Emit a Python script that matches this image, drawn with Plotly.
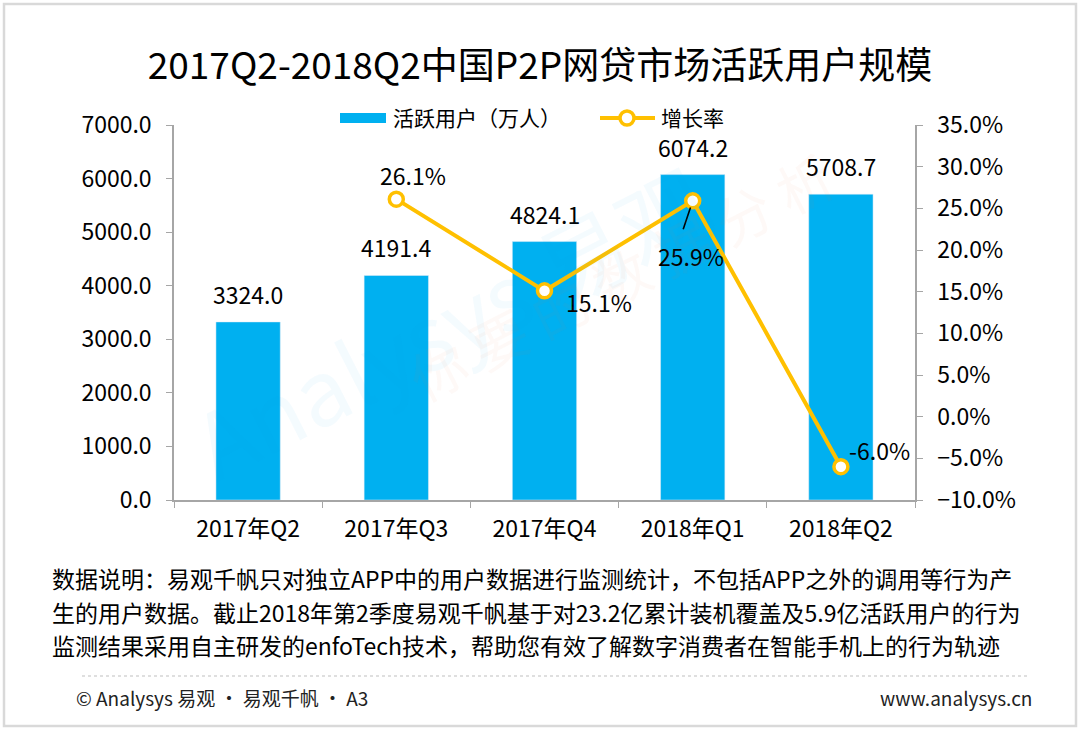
import plotly.graph_objects as go

# data
quarters = ['2017年Q2', '2017年Q3', '2017年Q4', '2018年Q1', '2018年Q2']
active_users = [3324.0, 4191.4, 4824.1, 6074.2, 5708.7]
growth_quarters = ['2017年Q3', '2017年Q4', '2018年Q1', '2018年Q2']
growth_rate = [26.1, 15.1, 25.9, -6.0]

title_text = '2017Q2-2018Q2中国P2P网贷市场活跃用户规模'
bar_name = '活跃用户（万人）'
line_name = '增长率'
note_lines = [
    '数据说明：易观千帆只对独立APP中的用户数据进行监测统计，不包括APP之外的调用等行为产',
    '生的用户数据。截止2018年第2季度易观千帆基于对23.2亿累计装机覆盖及5.9亿活跃用户的行为',
    '监测结果采用自主研发的enfoTech技术，帮助您有效了解数字消费者在智能手机上的行为轨迹',
]
footer_left = '© Analysys 易观 · 易观千帆 · A3'
footer_right = 'www.analysys.cn'

FONT = 'Noto Sans CJK SC'
BLUE = '#00B0F0'
GOLD = '#FFC000'
W, H = 1080, 731
L, R, T, B = 174, 165, 125, 231   # plot area: x 174..915, y 125..500


# helpers: pixel -> paper coords
def px(x):
    return (x - L) / (W - L - R)


def py(y):
    return (H - B - y) / (H - T - B)


fig = go.Figure()

fig.add_trace(go.Bar(
    x=quarters, y=active_users, name=bar_name,
    marker=dict(color=BLUE),
))

fig.add_trace(go.Scatter(
    x=growth_quarters, y=growth_rate, name=line_name, yaxis='y2',
    mode='lines+markers',
    line=dict(color=GOLD, width=4),
    marker=dict(size=14, color='white', line=dict(color=GOLD, width=3.5)),
))

annotations = []

# bar value labels
for q, v in zip(quarters, active_users):
    annotations.append(dict(
        x=q, y=v, xref='x', yref='y', text=f'{v:.1f}', showarrow=False,
        yanchor='bottom', yshift=9, font=dict(size=23, color='black', family=FONT),
    ))

# growth labels (offsets in pixels, x right / y up)
label_shift = {'2017年Q3': (17, 24), '2017年Q4': (54, -11), '2018年Q1': (-2, -55), '2018年Q2': (39, 17)}
for q, v in zip(growth_quarters, growth_rate):
    dx, dy = label_shift[q]
    annotations.append(dict(
        x=q, y=v, xref='x', yref='y2', text=f'{v:.1f}%', showarrow=False,
        xshift=dx, yshift=dy, font=dict(size=23, color='black', family=FONT),
    ))

# leader line for 25.9%
annotations.append(dict(
    x='2018年Q1', y=growth_rate[2], xref='x', yref='y2', text='', showarrow=True,
    arrowhead=0, arrowwidth=1.6, arrowcolor='black', ax=-10, ay=30, standoff=7,
))

# faint watermark
annotations.append(dict(
    x=px(450), y=py(320), xref='paper', yref='paper', text='Analysys 易观', showarrow=False,
    textangle=-27, font=dict(size=90, color='rgba(0,160,230,0.045)', family=FONT),
))
annotations.append(dict(
    x=px(620), y=py(420), xref='paper', yref='paper', text='你 要 的 数 据 分 析', showarrow=False,
    textangle=-27, font=dict(size=56, color='rgba(240,120,60,0.045)', family=FONT),
))

# manual legend (wide bar swatch, line with marker)
annotations.append(dict(
    x=px(392), y=py(117), xref='paper', yref='paper', text=bar_name, showarrow=False,
    xanchor='left', yanchor='middle', borderpad=0, font=dict(size=21, color='black', family=FONT),
))
annotations.append(dict(
    x=px(660), y=py(117), xref='paper', yref='paper', text=line_name, showarrow=False,
    xanchor='left', yanchor='middle', borderpad=0, font=dict(size=21, color='black', family=FONT),
))

# note text
for i, line in enumerate(note_lines):
    annotations.append(dict(
        x=px(50), y=py(578 + i * 33.5), xref='paper', yref='paper', text=line, showarrow=False,
        xanchor='left', yanchor='middle', font=dict(size=23, color='black', family=FONT),
    ))

# footer
annotations.append(dict(
    x=px(74), y=py(697), xref='paper', yref='paper', text=footer_left, showarrow=False,
    xanchor='left', yanchor='middle', font=dict(size=19, color='#222', family=FONT),
))
annotations.append(dict(
    x=px(1034), y=py(697), xref='paper', yref='paper', text=footer_right, showarrow=False,
    xanchor='right', yanchor='middle', font=dict(size=19, color='#222', family=FONT),
))

shapes = [
    # outer frame
    dict(type='rect', xref='paper', yref='paper', x0=px(4), x1=px(1076), y0=py(726), y1=py(4),
         line=dict(color='#D9D9D9', width=2.5), layer='below'),
    # dotted separator
    dict(type='line', xref='paper', yref='paper', x0=px(82), x1=px(1030), y0=py(676), y1=py(676),
         line=dict(color='#BFBFBF', width=1, dash='dot')),
    # legend swatches
    dict(type='rect', xref='paper', yref='paper', x0=px(340), x1=px(386), y0=py(123), y1=py(113),
         line=dict(width=0), fillcolor=BLUE),
    dict(type='line', xref='paper', yref='paper', x0=px(600), x1=px(655), y0=py(118), y1=py(118),
         line=dict(color=GOLD, width=4)),
    dict(type='circle', xref='paper', yref='paper', x0=px(620), x1=px(634), y0=py(125), y1=py(111),
         line=dict(color=GOLD, width=3.5), fillcolor='white'),
]

axis_font = dict(size=23, color='black', family=FONT)

fig.update_layout(
    width=W, height=H,
    margin=dict(l=L, r=R, t=T, b=B, autoexpand=False),
    paper_bgcolor='white', plot_bgcolor='rgba(0,0,0,0)',
    font=dict(family=FONT, color='black'),
    title=dict(text=title_text, x=0.5, xref='container', xanchor='center',
               y=1 - 66 / H, yref='container', yanchor='middle',
               font=dict(size=37, color='black', family=FONT)),
    bargap=0.566,
    showlegend=False,
    xaxis=dict(
        type='category', showgrid=False, showline=True, linecolor='#A6A6A6', linewidth=1.5,
        ticks='outside', tickson='boundaries', ticklen=6, tickcolor='#A6A6A6',
        tickfont=axis_font, ticklabelstandoff=8,
    ),
    yaxis=dict(
        range=[0, 7000], dtick=1000, tickformat='.1f', showgrid=False, zeroline=False,
        showline=True, linecolor='#A6A6A6', linewidth=1.5,
        ticks='outside', ticklen=6, tickcolor='#A6A6A6', tickfont=axis_font, ticklabelstandoff=10,
    ),
    yaxis2=dict(
        range=[-10, 35], dtick=5, ticksuffix='%', tickformat='.1f', overlaying='y', side='right',
        showgrid=False, zeroline=False, showline=True, linecolor='#A6A6A6', linewidth=1.5,
        ticks='outside', ticklen=6, tickcolor='#A6A6A6', tickfont=axis_font, ticklabelstandoff=10,
    ),
    annotations=annotations,
    shapes=shapes,
)

# drop the default 8px body margin so the figure sits at the page origin
fig.write_html('out.html', config={'displayModeBar': False},
               post_script="document.body.style.margin='0';document.body.style.overflow='hidden';")
